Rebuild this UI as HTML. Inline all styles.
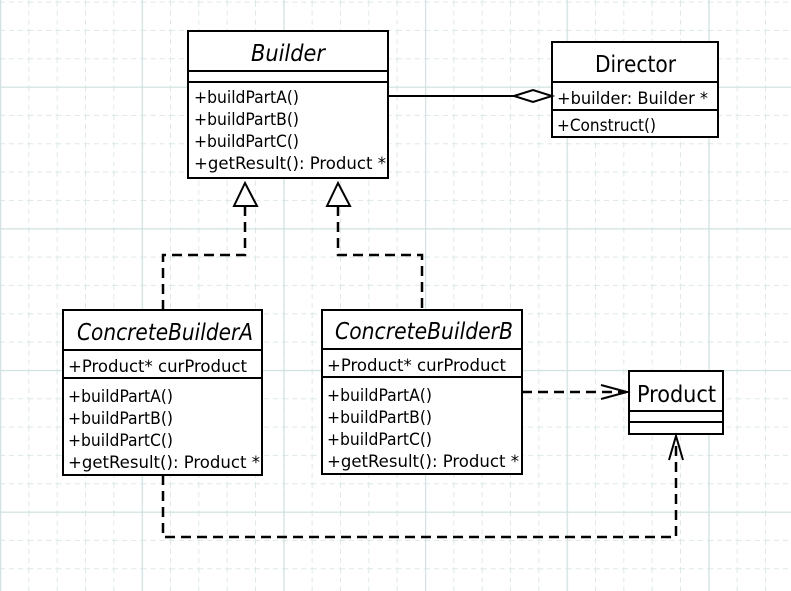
<!DOCTYPE html>
<html><head><meta charset="utf-8"><style>
html,body{margin:0;padding:0;background:#fff}
svg{display:block}
text{font-family:"DejaVu Sans Condensed","DejaVu Sans","Liberation Sans",sans-serif;fill:#000}
</style></head><body>
<svg width="791" height="591" xmlns="http://www.w3.org/2000/svg">
<defs>
<pattern id="g" width="28.333" height="28.333" patternUnits="userSpaceOnUse" x="0" y="1.6">
<path d="M0 0.5H28.333M0.5 0V28.333" stroke="#dde8e8" stroke-width="1" stroke-dasharray="5,4" fill="none"/>
</pattern>
<pattern id="G" width="141.667" height="141.667" patternUnits="userSpaceOnUse" x="0" y="86.6">
<path d="M0 0.5H141.667M0.5 0V141.667" stroke="#d2e2e2" stroke-width="1.5" fill="none"/>
</pattern>
</defs>
<rect width="791" height="591" fill="url(#g)"/>
<rect width="791" height="591" fill="url(#G)"/>

<g stroke="#000" stroke-width="2" fill="#fff">
<rect x="188" y="31" width="200" height="147"/>
<line x1="188" y1="71" x2="388" y2="71"/>
<line x1="188" y1="82" x2="388" y2="82"/>
<rect x="552" y="42" width="166" height="95"/>
<line x1="552" y1="82" x2="718" y2="82"/>
<line x1="552" y1="110" x2="718" y2="110"/>
<rect x="63" y="310" width="199" height="165"/>
<line x1="63" y1="350" x2="262" y2="350"/>
<line x1="63" y1="378" x2="262" y2="378"/>
<rect x="322" y="310" width="200" height="164"/>
<line x1="322" y1="349" x2="522" y2="349"/>
<line x1="322" y1="377" x2="522" y2="377"/>
<rect x="629" y="371" width="94" height="63"/>
<line x1="629" y1="411" x2="723" y2="411"/>
<line x1="629" y1="422" x2="723" y2="422"/>
</g>

<line x1="388" y1="96" x2="514" y2="96" stroke="#000" stroke-width="2"/>
<polygon points="514,96 533,90 552,96 533,102" fill="#fff" stroke="#000" stroke-width="2"/>

<g fill="none" stroke="#000" stroke-width="2.5" stroke-dasharray="10,6">
<polyline points="245,206 245,255 163,255 163,310"/>
<polyline points="338,206 338,255 422,255 422,310"/>
<polyline points="522,392 626,392"/>
<polyline points="163,475 163,537 676,537 676,437"/>
</g>
<g fill="#fff" stroke="#000" stroke-width="2">
<polygon points="245,183 234,206 257,206"/>
<polygon points="338,183 327,206 350,206"/>
</g>
<g fill="none" stroke="#000" stroke-width="2">
<polyline points="601,385 627,392 601,399"/>
<polyline points="669,460 676,436 683,460"/>
</g>

<g font-size="17" lengthAdjust="spacingAndGlyphs">
<text x="194" y="103" textLength="105" lengthAdjust="spacingAndGlyphs">+buildPartA()</text>
<text x="194" y="125" textLength="105" lengthAdjust="spacingAndGlyphs">+buildPartB()</text>
<text x="194" y="147" textLength="105" lengthAdjust="spacingAndGlyphs">+buildPartC()</text>
<text x="194" y="169" textLength="192" lengthAdjust="spacingAndGlyphs">+getResult(): Product *</text>

<text x="557" y="104" textLength="151" lengthAdjust="spacingAndGlyphs">+builder: Builder *</text>
<text x="557" y="131" textLength="99" lengthAdjust="spacingAndGlyphs">+Construct()</text>

<text x="68" y="372" textLength="179" lengthAdjust="spacingAndGlyphs">+Product* curProduct</text>
<text x="68" y="402" textLength="105" lengthAdjust="spacingAndGlyphs">+buildPartA()</text>
<text x="68" y="424" textLength="105" lengthAdjust="spacingAndGlyphs">+buildPartB()</text>
<text x="68" y="446" textLength="105" lengthAdjust="spacingAndGlyphs">+buildPartC()</text>
<text x="68" y="468" textLength="192" lengthAdjust="spacingAndGlyphs">+getResult(): Product *</text>

<text x="327" y="371" textLength="179" lengthAdjust="spacingAndGlyphs">+Product* curProduct</text>
<text x="327" y="401" textLength="105" lengthAdjust="spacingAndGlyphs">+buildPartA()</text>
<text x="327" y="423" textLength="105" lengthAdjust="spacingAndGlyphs">+buildPartB()</text>
<text x="327" y="445" textLength="105" lengthAdjust="spacingAndGlyphs">+buildPartC()</text>
<text x="327" y="467" textLength="192" lengthAdjust="spacingAndGlyphs">+getResult(): Product *</text>
</g>
<text x="251" y="61" font-size="23" font-style="italic" textLength="74" lengthAdjust="spacingAndGlyphs">Builder</text>
<text x="595" y="72" font-size="23" textLength="81" lengthAdjust="spacingAndGlyphs">Director</text>
<text x="77" y="340" font-size="23" font-style="italic" textLength="176" lengthAdjust="spacingAndGlyphs">ConcreteBuilderA</text>
<text x="335" y="339" font-size="23" font-style="italic" textLength="178" lengthAdjust="spacingAndGlyphs">ConcreteBuilderB</text>
<text x="637" y="402" font-size="23" textLength="79" lengthAdjust="spacingAndGlyphs">Product</text>
</svg>
</body></html>
